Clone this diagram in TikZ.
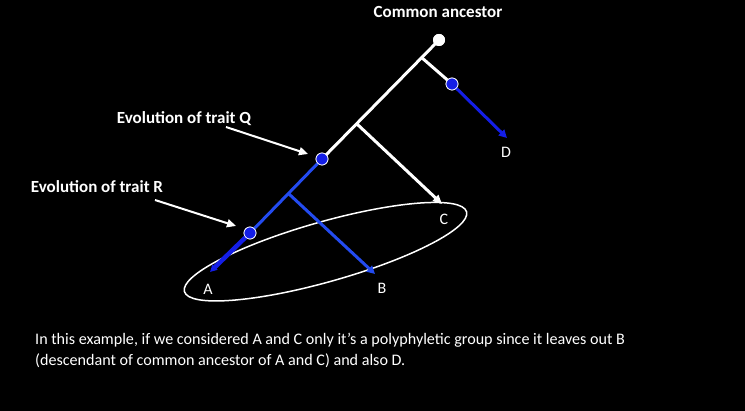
\documentclass[tikz,border=0pt]{standalone}
\usepackage{fontspec}
\setmainfont{Carlito}
\usetikzlibrary{arrows.meta}
\definecolor{brblue}{RGB}{35,75,240}
\definecolor{dkblue}{RGB}{20,30,230}
\tikzset{
  wline/.style={draw=white, line width=3pt},
  bline/.style={draw=brblue, line width=3pt},
  warrow/.style={draw=white, line width=2pt, -{Triangle[length=9pt,width=8pt]}},
  barrow/.style={line width=3pt, -{Triangle[length=8pt,width=8pt]}},
  bdot/.style={circle, fill=dkblue, draw=white, line width=0.7pt, minimum size=12pt, inner sep=0pt},
  wdot/.style={circle, fill=white, minimum size=12pt, inner sep=0pt},
  blabel/.style={text=white, font=\fontsize{17}{20}\selectfont\bfseries, inner sep=0pt},
  leaf/.style={text=white, font=\fontsize{16}{19}\selectfont, inner sep=0pt},
}
\begin{document}
\begin{tikzpicture}[x=1pt,y=-1pt]
\fill[black] (0,0) rectangle (745,411);
\useasboundingbox (0,0) rectangle (745,411);
% ellipse
\draw[white, line width=1.5pt, shift={(325.5,251.7)}, rotate=15.8] (0,0) ellipse [x radius=146.6, y radius=30];
% coordinates
\coordinate (jD) at (421,57);
\coordinate (jC) at (357,124);
\coordinate (jB) at (289,194);
\coordinate (tA) at (210,272);
\coordinate (tB) at (375,274);
\coordinate (tC) at (442,204);
\coordinate (tD) at (507,138);
\node[wdot] (root) at (439,40) {};
\node[bdot] (dQ) at (322,159) {};
\node[bdot] (dR) at (250,233) {};
\node[bdot] (dD) at (452,84) {};
% tree
\draw[wline] (root.center) -- (dQ.center);
\draw[wline] (jD) -- (dD.center);
\draw[warrow, line width=3pt] (jC) -- (tC);
\draw[bline] (dQ.center) -- (dR.center);
\draw[barrow, draw=brblue, fill=brblue] (jB) -- (tB);
\draw[barrow, draw=dkblue, fill=dkblue, line width=4.5pt, -{Triangle[length=7pt,width=7pt]}] (dR.center) -- (tA);
\draw[barrow, draw=dkblue, fill=dkblue] (dD.center) -- (tD);
% redraw dots on top
\node[wdot] at (root) {};
\node[bdot] at (dQ) {};
\node[bdot] at (dR) {};
\node[bdot] at (dD) {};
% labels
\node[leaf] (A) at (208,289) {A};
\node[leaf] (B) at (382,288) {B};
\node[leaf] (C) at (444,219) {C};
\node[leaf] (D) at (506,152) {D};
\node[blabel] (ca) at (438,12) {Common ancestor};
\node[blabel] (lq) at (184,119) {Evolution of trait Q};
\node[blabel] (lr) at (97,187) {Evolution of trait R};
\coordinate (qs) at (226,127);
\coordinate (qe) at (308,154);
\coordinate (rs) at (155,200);
\coordinate (re) at (236,226);
\draw[warrow] (qs) -- (qe);
\draw[warrow] (rs) -- (re);
\node[text=white, anchor=base west, inner sep=0pt,
  font=\fontsize{16.1}{21}\selectfont] (txt1) at (35,345)
  {In this example, if we considered A and C only it’s a polyphyletic group since it leaves out B};
\node[text=white, anchor=base west, inner sep=0pt,
  font=\fontsize{16.1}{21}\selectfont] (txt2) at (35,366)
  {(descendant of common ancestor of A and C) and also D.};
\end{tikzpicture}
\end{document}
